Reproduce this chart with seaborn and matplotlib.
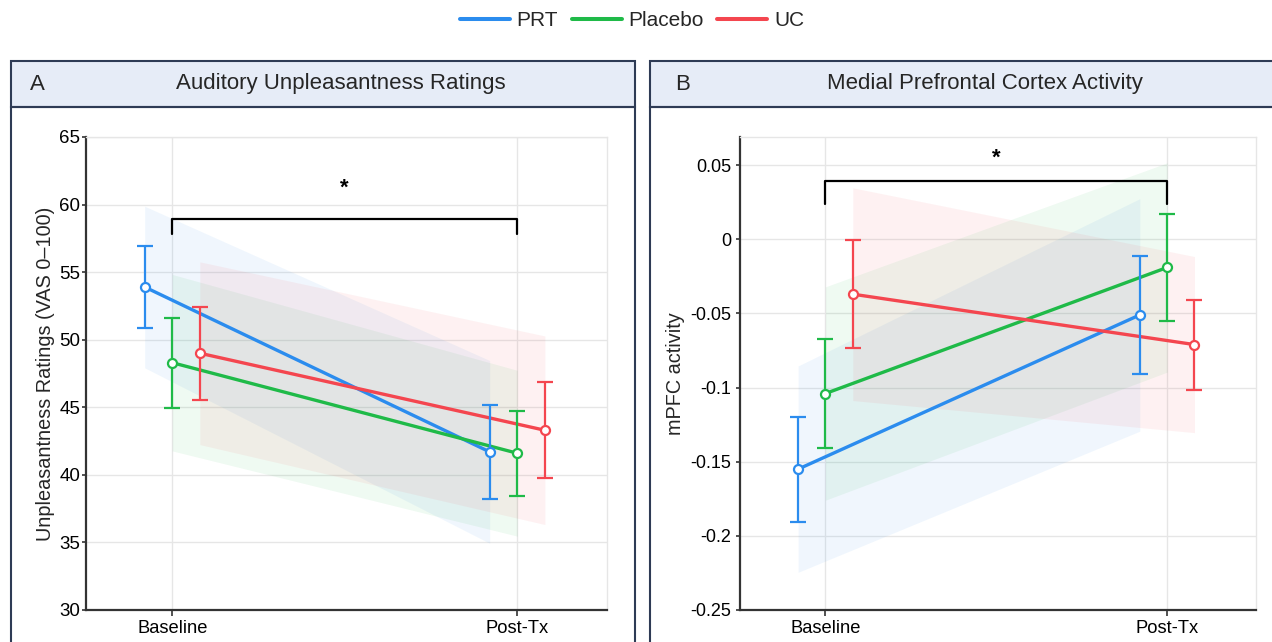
import numpy as np
import pandas as pd
import matplotlib
matplotlib.use("Agg")
import matplotlib.pyplot as plt
import seaborn as sns
from matplotlib.patches import Rectangle
from matplotlib.lines import Line2D

# ---------------- data ----------------
groups = ["PRT", "Placebo", "UC"]
timepoints = ["Baseline", "Post-Tx"]
colors = ["#2B8CEE", "#1FBA48", "#F4464F"]

# Panel A: Auditory unpleasantness ratings (mean, SE)
a_mean_prt = [53.9, 41.7]
a_mean_placebo = [48.3, 41.6]
a_mean_uc = [49.0, 43.3]
a_se_prt = [3.05, 3.45]
a_se_placebo = [3.33, 3.13]
a_se_uc = [3.45, 3.56]

# Panel B: mPFC activity (mean, SE)
b_mean_prt = [-0.155, -0.051]
b_mean_placebo = [-0.104, -0.019]
b_mean_uc = [-0.037, -0.071]
b_se_prt = [0.0355, 0.040]
b_se_placebo = [0.0367, 0.036]
b_se_uc = [0.0366, 0.0303]

a_yticks = [30, 35, 40, 45, 50, 55, 60, 65]
a_yticklabels = ["30", "35", "40", "45", "50", "55", "60", "65"]
b_yticks = [-0.25, -0.2, -0.15, -0.1, -0.05, 0.0, 0.05]
b_yticklabels = ["-0.25", "-0.2", "-0.15", "-0.1", "-0.05", "0", "0.05"]

# ---------------- style ----------------
sns.set_theme(style="white")
plt.rcParams["font.family"] = ["Liberation Sans", "DejaVu Sans"]
plt.rcParams["axes.unicode_minus"] = False

W, H = 1272, 642
fig = plt.figure(figsize=(W / 100, H / 100), dpi=100)

offsets = {"PRT": -0.08, "Placebo": 0.0, "UC": 0.08}
palette = dict(zip(groups, colors))
frame_col = "#2E3B55"
grid_col = "#E6E6E6"
axis_col = "#333333"


def fx(x):
    return x / W


def fy(y):
    return 1 - y / H


def draw(ax, means, ses, ylim, yticks, yticklabels, ytick_size, ytick_pad,
         ylabel, label_x, bracket_y, bracket_tick, star_y):
    rows = []
    for g, m, s in zip(groups, means, ses):
        for t in range(2):
            rows.append({"group": g, "t": t, "mean": m[t], "se": s[t]})
    df = pd.DataFrame(rows)
    df["x"] = df["t"] + df["group"].map(offsets)
    df["lo"] = df["mean"] - 1.96 * df["se"]
    df["hi"] = df["mean"] + 1.96 * df["se"]

    for g in groups:
        d = df[df["group"] == g]
        ax.fill_between(d["x"], d["lo"], d["hi"], color=palette[g],
                        alpha=0.07, lw=0, zorder=1)

    sns.lineplot(data=df, x="x", y="mean", hue="group", hue_order=groups,
                 palette=palette, lw=2.4, legend=False, ax=ax,
                 errorbar=None, zorder=3)

    for g in groups:
        d = df[df["group"] == g]
        ax.errorbar(d["x"], d["mean"], yerr=d["se"], fmt="o", color=palette[g],
                    mfc="white", mec=palette[g], ms=6.5, mew=1.6,
                    elinewidth=1.6, capsize=6, capthick=1.6, zorder=4)

    ax.plot([0, 0, 1, 1], [bracket_tick, bracket_y, bracket_y, bracket_tick],
            color="black", lw=1.6, zorder=5)
    ax.text(0.5, star_y, "*", ha="center", va="center", fontsize=16,
            fontweight="bold", color="black")

    ax.set_xlim(-0.25, 1.26)
    ax.set_ylim(*ylim)
    ax.set_xticks([0, 1])
    ax.set_xticklabels(timepoints, fontsize=13.2)
    ax.set_yticks(yticks)
    ax.set_yticklabels(yticklabels, fontsize=ytick_size)
    ax.set_xlabel("")
    ax.set_ylabel(ylabel, fontsize=14.3)
    ax.yaxis.set_label_coords(label_x, 0.5)
    ax.grid(True, color=grid_col, lw=1)
    ax.set_axisbelow(True)
    for sp in ["left", "bottom"]:
        ax.spines[sp].set_color(axis_col)
        ax.spines[sp].set_linewidth(1.6)
    for sp in ["top", "right"]:
        ax.spines[sp].set_color(grid_col)
        ax.spines[sp].set_linewidth(1)
    ax.tick_params(axis="x", direction="out", length=4, width=1.2,
                   color=axis_col, labelcolor="black", bottom=True, pad=3)
    ax.tick_params(axis="y", direction="out", length=3, width=1.2,
                   color=axis_col, labelcolor="black", left=True, pad=ytick_pad)


axA = fig.add_axes([fx(86), fy(610), fx(607) - fx(86), fy(137) - fy(610)])
axB = fig.add_axes([fx(740), fy(610), fx(1256) - fx(740), fy(137) - fy(610)])

draw(axA, [a_mean_prt, a_mean_placebo, a_mean_uc],
     [a_se_prt, a_se_placebo, a_se_uc], (30, 65), a_yticks, a_yticklabels,
     13.5, 1.0, "Unpleasantness Ratings (VAS 0\u2013100)", -0.06,
     58.9, 57.8, 61.2)
draw(axB, [b_mean_prt, b_mean_placebo, b_mean_uc],
     [b_se_prt, b_se_placebo, b_se_uc], (-0.25, 0.069), b_yticks,
     b_yticklabels, 13, 3.5, "mPFC activity", -0.107, 0.039, 0.0235, 0.055)

# ---------------- panel frames ----------------
for (x0, x1) in [(11, 635), (650, 1290)]:
    fig.add_artist(Rectangle((fx(x0), fy(107)), fx(x1) - fx(x0), fy(61) - fy(107),
                             transform=fig.transFigure, facecolor="#E6ECF7",
                             edgecolor=frame_col, lw=1.5, zorder=-1))
    fig.add_artist(Rectangle((fx(x0), fy(660)), fx(x1) - fx(x0), fy(107) - fy(660),
                             transform=fig.transFigure, facecolor="none",
                             edgecolor=frame_col, lw=1.5, zorder=-1))

fig.text(fx(30), fy(84), "A", fontsize=16, ha="left", va="center")
fig.text(fx(341), fy(84), "Auditory Unpleasantness Ratings", fontsize=16,
         ha="center", va="center")
fig.text(fx(675), fy(84), "B", fontsize=16, ha="left", va="center")
fig.text(fx(985), fy(84), "Medial Prefrontal Cortex Activity", fontsize=16,
         ha="center", va="center")

# ---------------- legend ----------------
handles = [Line2D([0], [0], color=c, lw=2.9) for c in colors]
fig.legend(handles, groups, loc="center", bbox_to_anchor=(fx(632), fy(21)),
           ncol=3, frameon=False, fontsize=15, handlelength=2.4,
           handletextpad=0.33, columnspacing=0.65)

fig.savefig("out.png", dpi=100)
